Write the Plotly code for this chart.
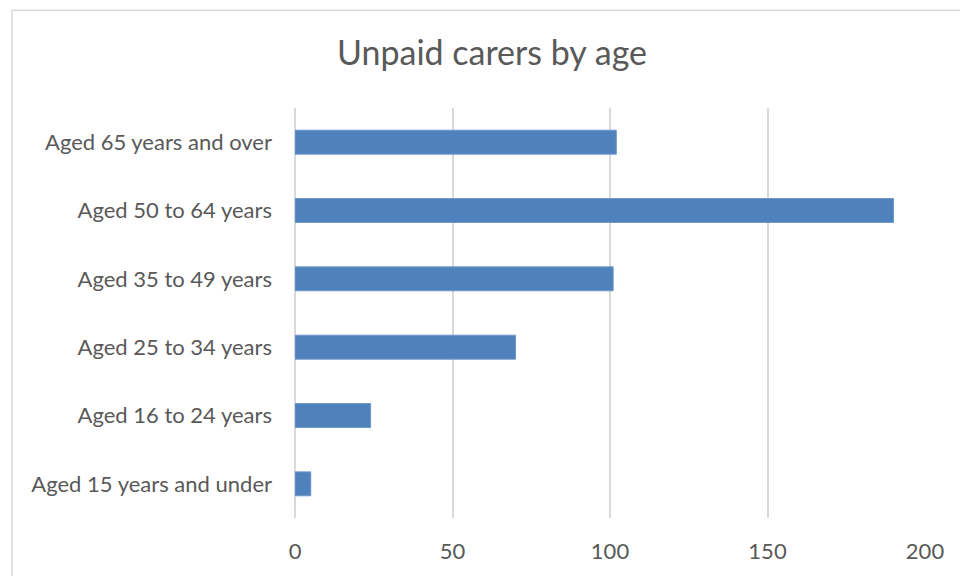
import plotly.graph_objects as go

# Unpaid carers by age band (counts)
age_groups = [
    "Aged 15 years and under",
    "Aged 16 to 24 years",
    "Aged 25 to 34 years",
    "Aged 35 to 49 years",
    "Aged 50 to 64 years",
    "Aged 65 years and over",
]
carers = [5, 24, 70, 101, 190, 102]
x_ticks = [0, 50, 100, 150, 200]

W, H = 960, 576
L, R, T, B = 295, 35, 108, 53
FONT = "Lato"
TEXT = "#595959"
GRID = "#d9d9d9"

fig = go.Figure(
    go.Bar(
        x=carers,
        y=age_groups,
        orientation="h",
        marker=dict(color="#4f81bd", line=dict(color="#6d97c9", width=1)),
        hoverinfo="x+y",
    )
)

pw = W - L - R
ph = H - T - B
# chart-area frame (runs past the right and bottom edges of the view)
fig.add_shape(
    type="rect",
    xref="paper", yref="paper",
    x0=(12 - L) / pw, x1=1 + (R + 20) / pw,
    y0=-(B + 20) / ph, y1=1 + (T - 9) / ph,
    line=dict(color=GRID, width=1.5),
    fillcolor="rgba(0,0,0,0)",
    layer="below",
)

fig.update_layout(
    width=W, height=H,
    margin=dict(l=L, r=R, t=T, b=B),
    paper_bgcolor="white",
    plot_bgcolor="white",
    bargap=0.65,
    showlegend=False,
    title=dict(
        text="Unpaid carers by age",
        x=492 / W, xanchor="center",
        y=1 - 53 / H, yanchor="middle",
        font=dict(family=FONT, size=34, color=TEXT),
    ),
    xaxis=dict(
        range=[0, 200],
        tickvals=x_ticks,
        ticktext=[str(v) for v in x_ticks],
        showgrid=True, gridcolor=GRID, gridwidth=1.5,
        zeroline=True, zerolinecolor=GRID, zerolinewidth=1.5,
        showline=False,
        ticks="",
        ticklabelstandoff=18,
        tickfont=dict(family=FONT, size=22, color=TEXT),
        fixedrange=True,
    ),
    yaxis=dict(
        categoryorder="array",
        categoryarray=age_groups,
        showgrid=False, zeroline=False, showline=False,
        ticks="",
        ticklabelstandoff=22,
        tickfont=dict(family=FONT, size=22, color=TEXT),
        fixedrange=True,
    ),
)

fig.write_html("out.html")
